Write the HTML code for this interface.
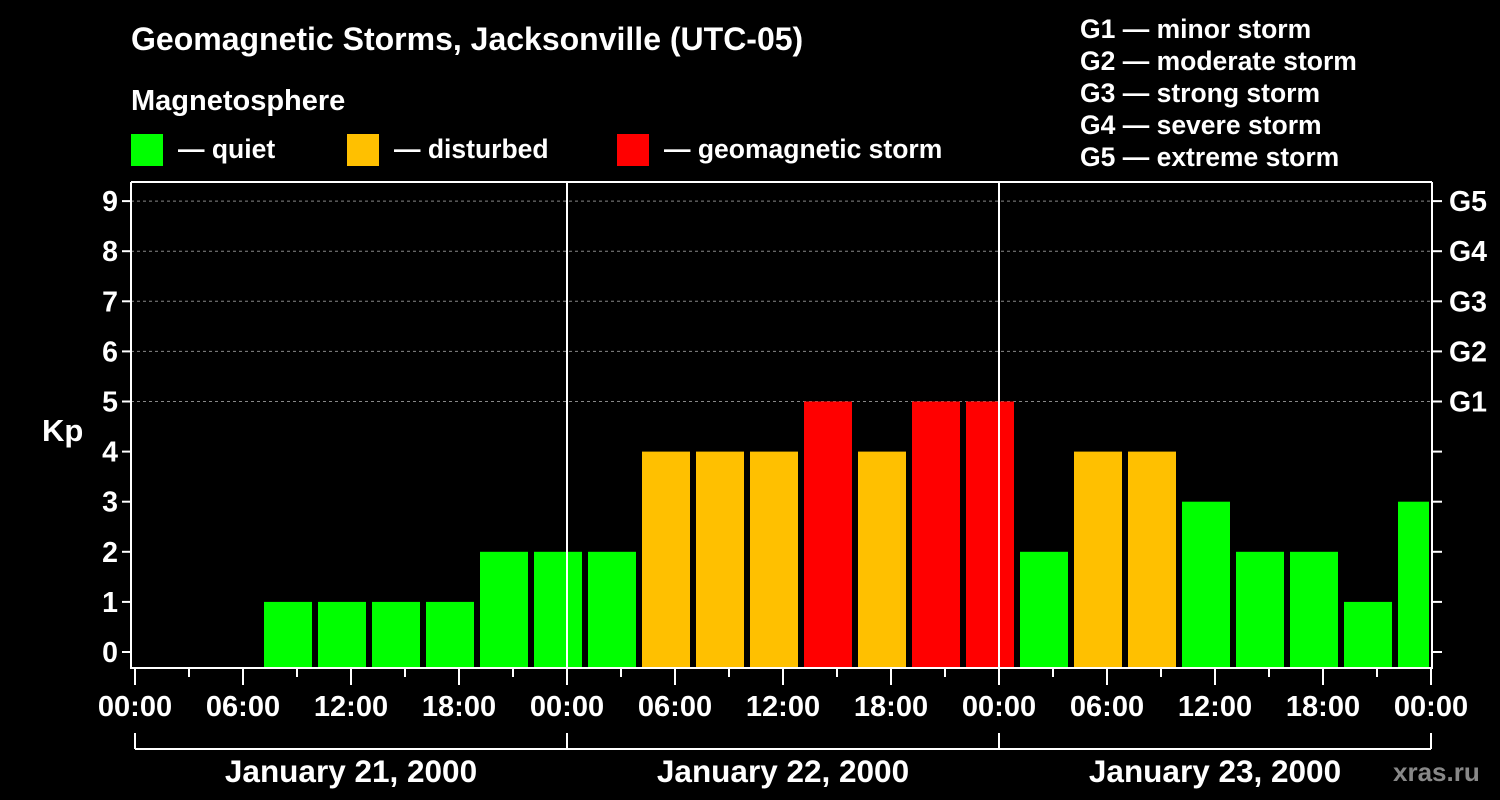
<!DOCTYPE html>
<html><head><meta charset="utf-8"><style>
html,body{margin:0;padding:0;background:#000;width:1500px;height:800px;overflow:hidden}
svg{display:block;font-family:"Liberation Sans",Arial,sans-serif;font-weight:bold}
</style></head><body>
<svg id="chart" width="1500" height="800" viewBox="0 0 1500 800">
<text x="131" y="50" fill="#fff" font-size="32">Geomagnetic Storms, Jacksonville (UTC-05)</text>
<text x="131" y="110" fill="#fff" font-size="29">Magnetosphere</text>
<g><rect x="131" y="134" width="32" height="32" fill="#00ff00"/><text x="178" y="158" fill="#fff" font-size="26.5">— quiet</text></g>
<g><rect x="347" y="134" width="32" height="32" fill="#ffc000"/><text x="394" y="158" fill="#fff" font-size="26.5">— disturbed</text></g>
<g><rect x="617" y="134" width="32" height="32" fill="#ff0000"/><text x="664" y="158" fill="#fff" font-size="26.5">— geomagnetic storm</text></g>
<g fill="#fff" font-size="26.5">
<text x="1080" y="38">G1 — minor storm</text>
<text x="1080" y="70">G2 — moderate storm</text>
<text x="1080" y="102">G3 — strong storm</text>
<text x="1080" y="134">G4 — severe storm</text>
<text x="1080" y="166">G5 — extreme storm</text>
</g>
<text x="42" y="441" fill="#fff" font-size="31">Kp</text>
<text x="1393" y="781" fill="#888" font-size="26">xras.ru</text>
<g id="grid"></g><g id="bars"></g><g id="axes"></g>
</svg>
<script>
const hours = [-0.5,2.5,5.5,8.5,11.5,14.5,17.5,20.5,23.5,26.5,29.5,32.5,35.5,38.5,41.5,44.5,47.5,50.5,53.5,56.5,59.5,62.5,65.5,68.5,71.5];
const kpValues = [0,0,0,1,1,1,1,2,2,2,4,4,4,5,4,5,5,2,4,4,3,2,2,1,3];
const yTicks = [0,1,2,3,4,5,6,7,8,9];
const gLabels = ['G1','G2','G3','G4','G5'];
const xTickLabels = ['00:00','06:00','12:00','18:00','00:00','06:00','12:00','18:00','00:00','06:00','12:00','18:00','00:00'];
const dayLabels = ['January 21, 2000','January 22, 2000','January 23, 2000'];

const NS='http://www.w3.org/2000/svg';
const L=131,R=1432,T=182,B=668,X0=135,PXH=18;
const xs=h=>X0+h*PXH;
const ys=v=>652-v*50.1;
function mk(tag,attrs,parent,text){const e=document.createElementNS(NS,tag);for(const k in attrs)e.setAttribute(k,attrs[k]);if(text!==undefined)e.textContent=text;parent.appendChild(e);return e;}
const grid=document.getElementById('grid'),bars=document.getElementById('bars'),axes=document.getElementById('axes');
yTicks.forEach(v=>{if(v>=5){const g=mk('line',{x1:L,x2:R,y1:ys(v),y2:ys(v),stroke:'#888','stroke-dasharray':'3,3','stroke-width':1},grid);

}});
kpValues.forEach((v,i)=>{const c=hours[i]; let x1=Math.max(xs(c)-24,L+1), x2=Math.min(xs(c)+24,R-3);
if(x2<=x1||v<=0)return;
const col=v>=5?'#ff0000':(v>=4?'#ffc000':'#00ff00');
const b=mk('rect',{x:x1,y:ys(v),width:x2-x1,height:B-ys(v),fill:col},bars);

});
mk('polyline',{points:`${L},${T} ${L},${B} ${R},${B} ${R},${T}`,fill:'none',stroke:'#fff','stroke-width':2},axes);
mk('line',{x1:L,x2:R,y1:T,y2:T,stroke:'#fff','stroke-width':2},axes);
[24,48].forEach(h=>{const d=mk('line',{x1:xs(h),x2:xs(h),y1:T,y2:B,stroke:'#fff','stroke-width':2},axes);

});
yTicks.forEach(v=>{const y=ys(v);
mk('line',{x1:L-9,x2:L,y1:y,y2:y,stroke:'#fff','stroke-width':2},axes);
mk('line',{x1:R,x2:R+10,y1:y,y2:y,stroke:'#fff','stroke-width':2},axes);
const t=mk('text',{x:L-13,y:y+10,fill:'#fff','font-size':28.5,'text-anchor':'end'},axes,String(v));


if(v>=5){const g=mk('text',{x:R+17,y:y+10,fill:'#fff','font-size':28.5},axes,gLabels[v-5]);

}});
for(let h=0;h<=72;h+=3){const x=xs(h);mk('line',{x1:x,x2:x,y1:B,y2:B+(h%6===0?17:9),stroke:'#fff','stroke-width':2},axes);}
xTickLabels.forEach((s,i)=>{const t=mk('text',{x:xs(i*6),y:716,fill:'#fff','font-size':29,'text-anchor':'middle'},axes,s);

});
mk('line',{x1:xs(0),x2:xs(72),y1:749,y2:749,stroke:'#fff','stroke-width':2},axes);
[0,24,48,72].forEach(h=>mk('line',{x1:xs(h),x2:xs(h),y1:733,y2:749,stroke:'#fff','stroke-width':2},axes));
dayLabels.forEach((s,i)=>{const t=mk('text',{x:xs(i*24+12),y:782,fill:'#fff','font-size':31.5,'text-anchor':'middle'},axes,s);

});
</script>
</body></html>
